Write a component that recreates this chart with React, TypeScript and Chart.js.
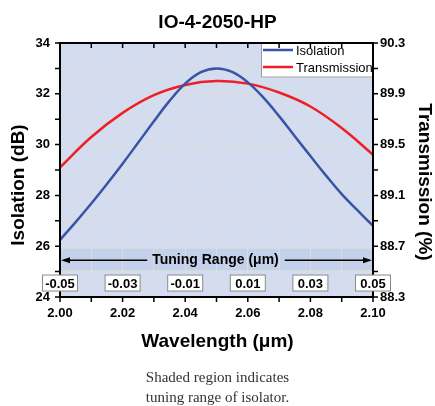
import React, { useEffect, useRef } from 'react';
import { Chart, registerables } from 'chart.js';

Chart.register(...registerables);

// ---------- data ----------
const titleText = 'IO-4-2050-HP';
const xTitle = 'Wavelength (μm)';
const yTitle = 'Isolation (dB)';
const y2Title = 'Transmission (%)';
const captionLines = ['Shaded region indicates', 'tuning range of isolator.'];

const isoWavelength = [2.0, 2.005, 2.01, 2.015, 2.02, 2.025, 2.03, 2.035, 2.04, 2.045, 2.05, 2.055, 2.06, 2.065, 2.07, 2.075, 2.08, 2.085, 2.09, 2.095, 2.1];
const isolationDb = [26.25, 26.95, 27.68, 28.45, 29.25, 30.08, 30.92, 31.72, 32.4, 32.85, 33.0, 32.86, 32.45, 31.85, 31.12, 30.33, 29.55, 28.78, 28.05, 27.42, 26.8];

const transWavelength = [2.0, 2.01, 2.02, 2.03, 2.04, 2.05, 2.06, 2.07, 2.08, 2.09, 2.1];
const transmissionPct = [89.32, 89.56, 89.75, 89.89, 89.97, 90.0, 89.98, 89.91, 89.8, 89.63, 89.42];

const tuningWavelength = [2.0, 2.02, 2.04, 2.06, 2.08, 2.1];
const tuningOffsetLabels = ['-0.05', '-0.03', '-0.01', '0.01', '0.03', '0.05'];
const tuningLabel = 'Tuning Range (μm)';

const bandTopDb = 25.9;
const bandBottomDb = 25.05;
const arrowDb = 25.45;
const boxDb = 24.55;

// ---------- styles ----------
const BLUE = '#3a53a4';
const RED = '#ee1f26';
const BG = '#d3ddef';
const BAND = '#c3d1ea';
const GRID = '#dcdcdc';
const FONT = '"Liberation Sans", Arial, sans-serif';

const overlay = {
  id: 'overlay',
  beforeDraw(chart: any) {
    const { ctx, chartArea: a, scales } = chart;
    ctx.save();
    ctx.fillStyle = BG;
    ctx.fillRect(a.left, a.top, a.right - a.left, a.bottom - a.top);
    const yb1 = scales.y.getPixelForValue(bandTopDb);
    const yb2 = scales.y.getPixelForValue(bandBottomDb);
    ctx.fillStyle = BAND;
    ctx.fillRect(a.left, yb1, a.right - a.left, yb2 - yb1);
    ctx.restore();
  },
  afterDraw(chart: any) {
    const { ctx, chartArea: a, scales } = chart;
    const x = scales.x, y = scales.y, y2 = scales.y2;
    const W = chart.width;
    ctx.save();

    // tuning range arrow + label
    const ay = y.getPixelForValue(arrowDb);
    const cx = (a.left + a.right) / 2;
    ctx.font = `bold 14px ${FONT}`;
    ctx.fillStyle = '#000';
    ctx.textAlign = 'center';
    ctx.textBaseline = 'middle';
    ctx.fillText(tuningLabel, cx - 1, ay);
    const tw = ctx.measureText(tuningLabel).width;
    ctx.strokeStyle = '#000';
    ctx.lineWidth = 1.5;
    const xl = x.getPixelForValue(tuningWavelength[0]);
    const xr = x.getPixelForValue(tuningWavelength[tuningWavelength.length - 1]);
    ctx.beginPath();
    ctx.moveTo(xl + 4, ay);
    ctx.lineTo(cx - tw / 2 - 6, ay);
    ctx.moveTo(cx + tw / 2 + 5, ay);
    ctx.lineTo(xr - 4, ay);
    ctx.stroke();
    ctx.beginPath();
    ctx.moveTo(xl + 1, ay);
    ctx.lineTo(xl + 10, ay - 3);
    ctx.lineTo(xl + 10, ay + 3);
    ctx.closePath();
    ctx.moveTo(xr - 1, ay);
    ctx.lineTo(xr - 10, ay - 3);
    ctx.lineTo(xr - 10, ay + 3);
    ctx.closePath();
    ctx.fill();

    // legend
    const lx = 261, lt = a.top, lr = a.right, lb = a.top + 34.5;
    ctx.fillStyle = '#fff';
    ctx.fillRect(lx, lt, lr - lx, lb - lt);
    ctx.strokeStyle = '#9a9a9a';
    ctx.lineWidth = 1;
    ctx.strokeRect(lx + 0.5, lt + 0.5, lr - lx - 1, lb - lt - 1);
    const items = chart.data.datasets;
    ctx.font = `13px ${FONT}`;
    ctx.textAlign = 'left';
    items.forEach((ds: any, i: number) => {
      const iy = lt + 7 + i * 17;
      ctx.strokeStyle = ds.borderColor;
      ctx.lineWidth = 2.5;
      ctx.beginPath();
      ctx.moveTo(lx + 2, iy);
      ctx.lineTo(lx + 32, iy);
      ctx.stroke();
      ctx.fillStyle = '#000';
      ctx.fillText(ds.label, lx + 35, iy + 1);
    });

    // frame
    ctx.strokeStyle = '#000';
    ctx.lineWidth = 2;
    ctx.strokeRect(a.left, a.top, a.right - a.left, a.bottom - a.top);

    // tick marks
    ctx.lineWidth = 1.5;
    ctx.beginPath();
    x.ticks.forEach((t: any) => {
      const px = x.getPixelForValue(t.value);
      ctx.moveTo(px, a.bottom);
      ctx.lineTo(px, a.bottom + 5);
      ctx.moveTo(px, a.top);
      ctx.lineTo(px, a.top + 5);
    });
    y.ticks.forEach((t: any) => {
      const py = y.getPixelForValue(t.value);
      ctx.moveTo(a.left - 5, py);
      ctx.lineTo(a.left, py);
    });
    y2.ticks.forEach((t: any) => {
      const py = y2.getPixelForValue(t.value);
      ctx.moveTo(a.right, py);
      ctx.lineTo(a.right + 5, py);
    });
    ctx.stroke();

    // offset boxes (drawn over the frame)
    const by = y.getPixelForValue(boxDb);
    ctx.font = `bold 13px ${FONT}`;
    ctx.textAlign = 'center';
    ctx.textBaseline = 'middle';
    tuningWavelength.forEach((w, i) => {
      const px = x.getPixelForValue(w);
      ctx.fillStyle = '#fff';
      ctx.fillRect(px - 17.5, by - 8, 35, 16);
      ctx.strokeStyle = '#8a8a8a';
      ctx.lineWidth = 1;
      ctx.strokeRect(px - 17.5, by - 8, 35, 16);
      ctx.fillStyle = '#000';
      ctx.fillText(tuningOffsetLabels[i], px, by + 1);
    });

    // titles
    ctx.fillStyle = '#000';
    ctx.textAlign = 'center';
    ctx.textBaseline = 'middle';
    ctx.font = `bold 19px ${FONT}`;
    ctx.fillText(titleText, W / 2, 23);
    ctx.fillText(xTitle, W / 2, 342);
    ctx.save();
    ctx.translate(18.5, 185);
    ctx.rotate(-Math.PI / 2);
    ctx.fillText(yTitle, 0, 0);
    ctx.restore();
    ctx.save();
    ctx.translate(424, 182);
    ctx.rotate(Math.PI / 2);
    ctx.fillText(y2Title, 0, 0);
    ctx.restore();

    // caption
    ctx.font = `15px "Liberation Serif", "Times New Roman", serif`;
    ctx.fillStyle = '#333';
    ctx.textBaseline = 'alphabetic';
    ctx.fillText(captionLines[0], W / 2, 382);
    ctx.fillText(captionLines[1], W / 2, 402);

    ctx.restore();
  },
};

export default function App() {
  const ref = useRef<HTMLCanvasElement | null>(null);
  useEffect(() => {
    if (!ref.current) return;
    const tickFont = { family: FONT, size: 13, weight: 'bold' as const };
    const chart = new Chart(ref.current, {
      type: 'line',
      data: {
        datasets: [
          {
            label: 'Isolation',
            data: isoWavelength.map((w, i) => ({ x: w, y: isolationDb[i] })),
            borderColor: BLUE,
            borderWidth: 2.5,
            pointRadius: 0,
            tension: 0.4,
            yAxisID: 'y',
          },
          {
            label: 'Transmission',
            data: transWavelength.map((w, i) => ({ x: w, y: transmissionPct[i] })),
            borderColor: RED,
            borderWidth: 2.5,
            pointRadius: 0,
            tension: 0.4,
            yAxisID: 'y2',
          },
        ],
      },
      options: {
        animation: false,
        responsive: true,
        maintainAspectRatio: false,
        layout: { padding: { top: 43, left: 0, right: 0, bottom: 0 } },
        plugins: {
          legend: { display: false },
          title: { display: false },
          tooltip: { enabled: false },
        },
        scales: {
          x: {
            type: 'linear',
            min: 2.0,
            max: 2.1,
            afterFit: (s: any) => { s.height = 109; },
            grid: { color: GRID, drawTicks: false },
            border: { display: false },
            ticks: {
              stepSize: 0.01,
              autoSkip: false,
              maxRotation: 0,
              padding: 9,
              color: '#000',
              font: tickFont,
              callback: (v: any, i: number) => (i % 2 === 0 ? Number(v).toFixed(2) : ''),
            },
          },
          y: {
            position: 'left',
            min: 24,
            max: 34,
            afterFit: (s: any) => { s.width = 60; },
            grid: { color: GRID, drawTicks: false },
            border: { display: false },
            ticks: {
              stepSize: 1,
              padding: 10,
              color: '#000',
              font: tickFont,
              callback: (v: any) => (Number(v) % 2 === 0 ? String(v) : ''),
            },
          },
          y2: {
            position: 'right',
            min: 88.3,
            max: 90.3,
            afterFit: (s: any) => { s.width = 62; },
            grid: { drawOnChartArea: false, drawTicks: false },
            border: { display: false },
            ticks: {
              stepSize: 0.2,
              padding: 7,
              color: '#000',
              font: tickFont,
              callback: (v: any, i: number) => (i % 2 === 0 ? Number(v).toFixed(1) : ''),
            },
          },
        },
      } as any,
      plugins: [overlay],
    });
    return () => chart.destroy();
  }, []);

  return (
    <div style={{ position: 'absolute', left: 0, top: 0, width: 435, height: 406 }}>
      <canvas ref={ref} />
    </div>
  );
}
